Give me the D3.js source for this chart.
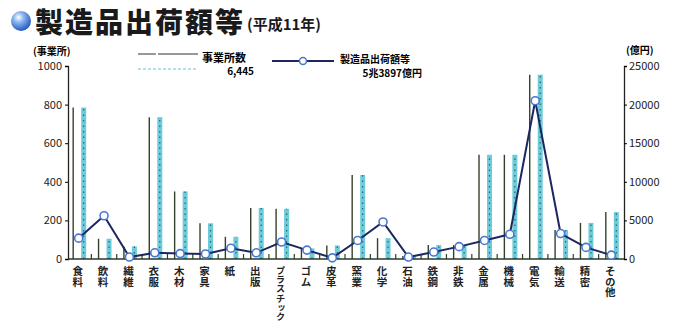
<!DOCTYPE html>
<html>
<head>
<meta charset="utf-8">
<script src="https://cdn.jsdelivr.net/npm/d3@7"></script>
<style>
  html, body { margin: 0; padding: 0; background: #fff; }
  svg { display: block; }
  text { font-family: "Noto Sans CJK JP", "Noto Sans", sans-serif; }
</style>
</head>
<body>
<svg id="chart" width="673" height="325"></svg>
<script>
// 業種別の事業所数と製造品出荷額等（平成11年）
const categories = ["食料","飲料","繊維","衣服","木材","家具","紙","出版","プラスチック","ゴム","皮革",
                    "窯業","化学","石油","鉄鋼","非鉄","金属","機械","電気","輸送","精密","その他"];
// 事業所数（左軸）
const establishments = [785,105,65,735,350,185,115,264,260,55,70,435,108,15,72,72,540,540,955,150,187,243];
// 製造品出荷額等（億円, 右軸）
const shipments = [2700,5600,250,800,700,650,1400,800,2200,1150,150,2400,4800,250,900,1600,2400,3200,20500,3300,1500,500];
const leftTicks = [0,200,400,600,800,1000];
const rightTicks = [0,5000,10000,15000,20000,25000];

const svg = d3.select("#chart");

const x = d3.scaleBand().domain(categories).range([66, 624]).padding(0);
const yL = d3.scaleLinear().domain([0, 1000]).range([259, 66]);
const yR = d3.scaleLinear().domain([0, 25000]).range([259, 66]);

// タイトルの球アイコン
const defs = svg.append("defs");
const g1 = defs.append("radialGradient").attr("id", "ball").attr("cx", "38%").attr("cy", "32%").attr("r", "70%");
g1.append("stop").attr("offset", "0%").attr("stop-color", "#ffffff");
g1.append("stop").attr("offset", "35%").attr("stop-color", "#8fb8f0");
g1.append("stop").attr("offset", "100%").attr("stop-color", "#1f55c0");
svg.append("circle").attr("cx", 21).attr("cy", 21).attr("r", 10).attr("fill", "url(#ball)");

svg.append("text").attr("x", 35).attr("y", 33)
  .attr("font-size", 28).attr("font-weight", 900).attr("fill", "#1a1a1a")
  .attr("textLength", 208).attr("lengthAdjust", "spacing")
  .text("製造品出荷額等");
svg.append("text").attr("x", 247).attr("y", 30)
  .attr("font-size", 15).attr("font-weight", 700).attr("fill", "#1a1a1a")
  .text("(平成11年)");

// 軸タイトル
svg.append("text").attr("x", 33).attr("y", 55).attr("font-size", 10).attr("font-weight", 700).text("(事業所)");
svg.append("text").attr("x", 626).attr("y", 54).attr("font-size", 10).attr("font-weight", 700).text("(億円)");

// 凡例
const lg = svg.append("g");
lg.append("line").attr("x1", 138).attr("x2", 198).attr("y1", 54).attr("y2", 54)
  .attr("stroke", "#333").attr("stroke-width", 1.2).attr("stroke-dasharray", "18,2,40,0");
lg.append("line").attr("x1", 138).attr("x2", 198).attr("y1", 69).attr("y2", 69)
  .attr("stroke", "#9fd8e4").attr("stroke-width", 1.6).attr("stroke-dasharray", "3,2");
lg.append("text").attr("x", 202).attr("y", 62).attr("font-size", 11).attr("font-weight", 700).text("事業所数");
lg.append("text").attr("x", 254).attr("y", 75).attr("font-size", 10).attr("font-weight", 700)
  .attr("text-anchor", "end").text("6,445");
lg.append("line").attr("x1", 272).attr("x2", 334).attr("y1", 61).attr("y2", 61)
  .attr("stroke", "#1c2760").attr("stroke-width", 2);
lg.append("circle").attr("cx", 303).attr("cy", 61).attr("r", 3.5)
  .attr("fill", "#fff").attr("stroke", "#4a78d0").attr("stroke-width", 1.5);
lg.append("text").attr("x", 340).attr("y", 63).attr("font-size", 10).attr("font-weight", 700).text("製造品出荷額等");
lg.append("text").attr("x", 422).attr("y", 77).attr("font-size", 10).attr("font-weight", 700)
  .attr("text-anchor", "end").text("5兆3897億円");

// 棒（細線＋点描の太棒）
const bars = svg.append("g");
categories.forEach((c, i) => {
  const cx = x(c) + x.bandwidth() / 2;
  bars.append("line").attr("x1", cx - 5.5).attr("x2", cx - 5.5)
    .attr("y1", yL(0)).attr("y2", yL(establishments[i]))
    .attr("stroke", "#34402c").attr("stroke-width", 1.4);
  bars.append("rect").attr("x", cx + 2.5).attr("width", 5)
    .attr("y", yL(establishments[i])).attr("height", yL(0) - yL(establishments[i]))
    .attr("fill", "#6ccbdc");
  bars.append("line").attr("x1", cx + 5).attr("x2", cx + 5)
    .attr("y1", yL(0)).attr("y2", yL(establishments[i]))
    .attr("stroke", "#2f6658").attr("stroke-width", 1.2).attr("stroke-dasharray", "1.5,4");
});

// 区切りの小目盛
svg.append("g").selectAll("line").data(categories.slice(1)).join("line")
  .attr("x1", d => x(d)).attr("x2", d => x(d))
  .attr("y1", 259).attr("y2", 254)
  .attr("stroke", "#34402c").attr("stroke-width", 1.2);

// 左軸
const axL = svg.append("g").attr("transform", "translate(68,0)")
  .call(d3.axisLeft(yL).tickValues(leftTicks).tickSize(3).tickPadding(3).tickFormat(d3.format("d")));
axL.select(".domain").attr("stroke", "#222").attr("stroke-width", 1.3);
axL.selectAll("text").attr("font-family", "Liberation Sans, Arial, sans-serif").attr("font-size", 11).attr("fill", "#222");

// 右軸
const axR = svg.append("g").attr("transform", "translate(624,0)")
  .call(d3.axisRight(yR).tickValues(rightTicks).tickSize(3).tickPadding(2).tickFormat(d3.format("d")));
axR.select(".domain").attr("stroke", "#222").attr("stroke-width", 1.3);
axR.selectAll("text").attr("font-family", "Liberation Sans, Arial, sans-serif").attr("font-size", 11).attr("fill", "#222");

// 横軸の基線
svg.append("line").attr("x1", 68).attr("x2", 624).attr("y1", 259).attr("y2", 259)
  .attr("stroke", "#2a3a2a").attr("stroke-width", 1.5);

// 出荷額の折れ線
const line = d3.line()
  .x((d, i) => x(categories[i]) + x.bandwidth() / 2)
  .y(d => yR(d));
svg.append("path").datum(shipments).attr("d", line)
  .attr("fill", "none").attr("stroke", "#1c2760").attr("stroke-width", 2);
svg.append("g").selectAll("circle").data(shipments).join("circle")
  .attr("cx", (d, i) => x(categories[i]) + x.bandwidth() / 2)
  .attr("cy", d => yR(d))
  .attr("r", 4).attr("fill", "#fff").attr("stroke", "#4a78d0").attr("stroke-width", 1.6);

// 業種名（縦書き）
svg.append("g").selectAll("text").data(categories).join("text")
  .attr("x", d => x(d) + x.bandwidth() / 2 - 1)
  .attr("y", 266)
  .attr("writing-mode", "vertical-rl")
  .attr("font-size", d => d.length > 3 ? 9.2 : 10.5)
  .attr("font-weight", 700).attr("fill", "#222")
  .text(d => d);
</script>
</body>
</html>
